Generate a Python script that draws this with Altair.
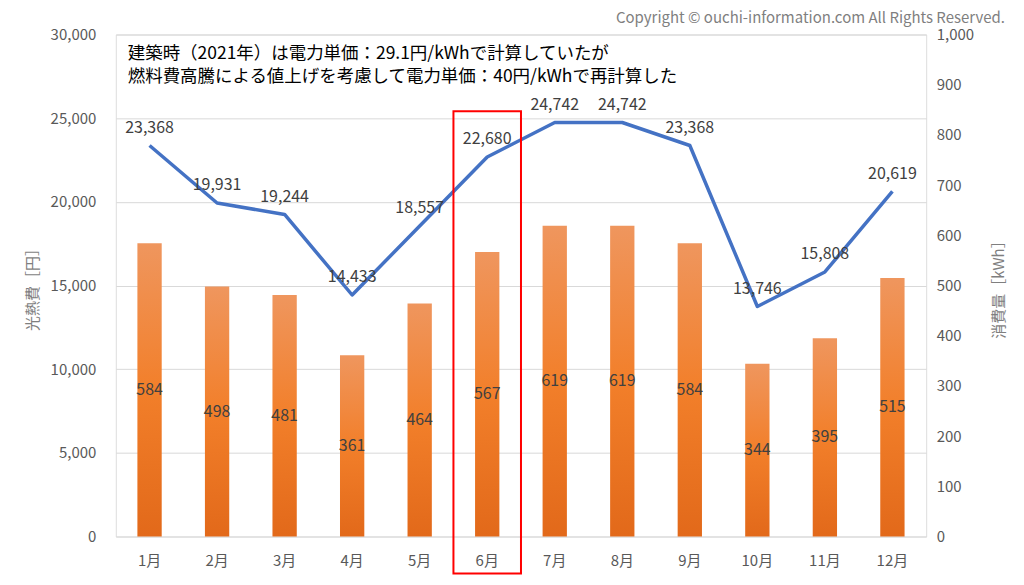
import altair as alt
import pandas as pd

months = ["1月", "2月", "3月", "4月", "5月", "6月", "7月", "8月", "9月", "10月", "11月", "12月"]
cost_yen = [23368, 19931, 19244, 14433, 18557, 22680, 24742, 24742, 23368, 13746, 15808, 20619]
usage_kwh = [584, 498, 481, 361, 464, 567, 619, 619, 584, 344, 395, 515]
highlight_month = ["6月"]
note_lines = [
    "建築時（2021年）は電力単価：29.1円/kWhで計算していたが",
    "燃料費高騰による値上げを考慮して電力単価：40円/kWhで再計算した",
]
note_index = [0, 1]
copyright_text = "Copyright © ouchi-information.com All Rights Reserved."

FONT = "Noto Sans CJK JP"
df = pd.DataFrame({"month": months, "yen": cost_yen, "kwh": usage_kwh})

xenc = alt.X("month:N", sort=months,
             scale=alt.Scale(paddingInner=0, paddingOuter=0),
             axis=alt.Axis(title=None, domain=False, ticks=False, labelAngle=0,
                           labelPadding=17, labelFontSize=15, labelColor="#595959",
                           labelFont=FONT))

base = alt.Chart(df)

grad = alt.Gradient(gradient="linear", x1=0, x2=0, y1=0, y2=1,
                    stops=[alt.GradientStop(color="#EF965E", offset=0),
                           alt.GradientStop(color="#F27F2A", offset=0.5),
                           alt.GradientStop(color="#E2691A", offset=1)])

yk = alt.Y("kwh:Q", scale=alt.Scale(domain=[0, 1000]),
           axis=alt.Axis(orient="right", values=list(range(0, 1001, 100)), format=",d",
                         grid=False, domain=False, ticks=False, labelPadding=10,
                         labelFontSize=15, labelColor="#595959", labelFont=FONT,
                         title="消費量［kWh］", titleAngle=270, titleFontSize=15,
                         titleColor="#7F7F7F", titleFontWeight="normal", titlePadding=33,
                         titleFont=FONT))

bars = base.mark_bar(color=grad, width=alt.RelativeBandSize(0.36)).encode(
    x=xenc, y=yk)
bar_text = base.transform_calculate(mid="datum.kwh / 2").mark_text(
    fontSize=16, color="#404040", font=FONT, baseline="middle").encode(
    x=alt.X("month:N", sort=months), y=alt.Y("mid:Q"), text=alt.Text("kwh:Q"))
bar_layer = alt.layer(bars, bar_text)

yy = alt.Y("yen:Q", scale=alt.Scale(domain=[0, 30000]),
           axis=alt.Axis(orient="left", values=list(range(0, 30001, 5000)), format=",d",
                         grid=True, gridColor="#D9D9D9", domain=False, ticks=False,
                         labelPadding=20, labelFontSize=15, labelColor="#595959",
                         labelFont=FONT, title="光熱費［円］", titleFontSize=15,
                         titleColor="#7F7F7F", titleFontWeight="normal", titlePadding=10,
                         titleFont=FONT))

line = base.mark_line(color="#4472C4", strokeWidth=3.5, strokeJoin="round").encode(
    x=alt.X("month:N", sort=months), y=yy)
line_text = base.mark_text(fontSize=16, color="#404040", font=FONT, dy=-18,
                           baseline="middle").encode(
    x=alt.X("month:N", sort=months), y=alt.Y("yen:Q"), text=alt.Text("yen:Q", format=","))
line_layer = alt.layer(line, line_text)

hl = alt.Chart(pd.DataFrame({"month": highlight_month})).mark_rect(
    filled=False, stroke="#FF0000", strokeWidth=2).encode(
    x=alt.X("month:N", sort=months), y=alt.value(77), y2=alt.value(540))

notes = alt.Chart(pd.DataFrame({"t": note_lines, "i": note_index})).mark_text(
    align="left", baseline="middle", fontSize=17.5, color="#000000", font=FONT).encode(
    x=alt.value(12),
    y=alt.Y("i:Q", scale=alt.Scale(domain=[0, 1], range=[20, 43]), axis=None),
    text="t:N")

copy = alt.Chart(pd.DataFrame({"t": [copyright_text]})).mark_text(
    align="right", baseline="middle", fontSize=15, color="#7F7F7F", font=FONT).encode(
    x=alt.value(891), y=alt.value(-17), text="t:N")

chart = alt.layer(bar_layer, line_layer, hl, notes, copy).resolve_scale(
    y="independent").properties(
    width=812, height=503,
    autosize=alt.AutoSizeParams(type="none"),
    padding={"left": 108, "top": 26, "right": 90, "bottom": 40},
).configure_view(stroke=None).configure(font=FONT)

chart.save("out.html", embed_options={"renderer": "svg", "actions": False})
